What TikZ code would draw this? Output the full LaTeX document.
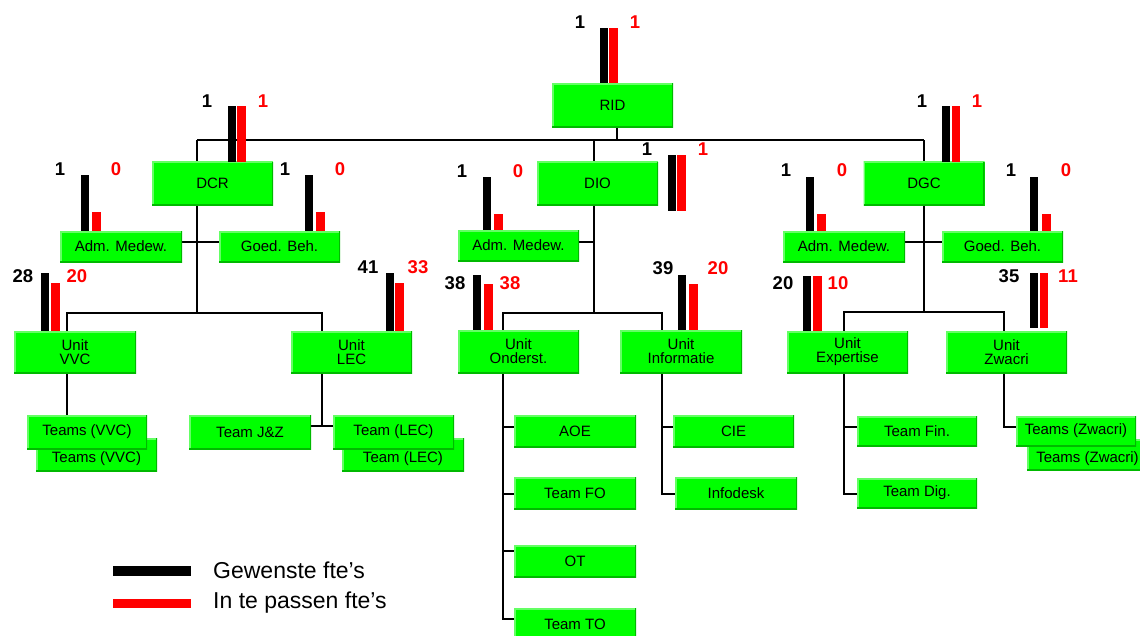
\documentclass[tikz,border=0pt]{standalone}
\usepackage{fontspec}
\setmainfont{Liberation Sans}
\usetikzlibrary{backgrounds}
\definecolor{gfill}{RGB}{0,255,0}
\definecolor{gdark}{RGB}{0,185,0}
\definecolor{glight}{RGB}{100,255,100}
\definecolor{fred}{RGB}{255,0,0}
\newcommand\ftebars[5]{%
  \fill[black] (#1,#3) rectangle (#1+8,#4);
  \fill[fred] (#2,#5) rectangle (#2+8.5,#4);}
\begin{document}
\begin{tikzpicture}[x=1pt,y=-1pt,
  bx/.style={fill=gfill, inner sep=0pt, minimum width=121pt, minimum height=32pt,
    font=\fontsize{15}{14}\selectfont, align=center, text=black,
    path picture={
      \draw[glight,line width=3pt] (path picture bounding box.south west) -- (path picture bounding box.north west) -- (path picture bounding box.north east);
      \draw[gdark,line width=3pt] (path picture bounding box.north east) -- (path picture bounding box.south east) -- (path picture bounding box.south west);}},
  topbox/.style={bx, minimum height=44pt},
  midbox/.style={bx, minimum height=31pt},
  unitbox/.style={bx, minimum height=42pt},
  teambox/.style={bx, minimum height=32pt},
  backbox/.style={teambox, text height=16pt, text depth=1pt},
  num/.style={font=\fontsize{18.5}{20}\selectfont\bfseries, inner sep=0pt, text=black},
  rnum/.style={num, text=fred},
  conn/.style={draw=black, line width=1.6pt},
  legend/.style={font=\fontsize{23}{25}\selectfont, anchor=west, inner sep=0pt}]
\useasboundingbox (0,0) rectangle (1140,635);

% ---- boxes ----
\node[topbox] (rid) at (612.5,105) {RID};
\node[topbox] (dcr) at (212.5,183.5) {DCR};
\node[topbox] (dio) at (597.5,183.5) {DIO};
\node[topbox] (dgc) at (924,183.5) {DGC};

\node[midbox, minimum width=122pt] (admA) at (121,246.5) {Adm. Medew.};
\node[midbox] (goedA) at (279.5,246.5) {Goed. Beh.};
\node[midbox] (admB) at (518.5,245.5) {Adm. Medew.};
\node[midbox, minimum width=122pt] (admC) at (844,246.5) {Adm. Medew.};
\node[midbox] (goedC) at (1002.5,246.5) {Goed. Beh.};

\node[unitbox, minimum width=122pt] (vvc) at (75,352) {Unit\\VVC};
\node[unitbox] (lec) at (351.5,352) {Unit\\LEC};
\node[unitbox, minimum height=43pt] (ond) at (518.5,351.5) {Unit\\Onderst.};
\node[unitbox, minimum width=122pt, minimum height=43pt] (inf) at (681,351.5) {Unit\\Informatie};
\node[unitbox] (exp) at (847.5,352) {Unit\\Expertise};
\node[unitbox] (zwa) at (1006.5,352) {Unit\\Zwacri};

\node[backbox, minimum height=33pt] (vvcB) at (96.5,454.5) {Teams (VVC)};
\node[teambox, minimum height=34pt, minimum width=120pt] (vvcA) at (87,432) {Teams (VVC)};
\node[teambox, minimum width=122pt, minimum height=34pt] (jz) at (250,432) {Team J\&Z};
\node[backbox, minimum width=122pt, minimum height=33pt] (lecB) at (403,454.5) {Team (LEC)};
\node[teambox, minimum height=34pt] (lecA) at (393.5,432) {Team (LEC)};

\node[teambox, minimum width=122pt] (aoe) at (575,431) {AOE};
\node[teambox, minimum width=122pt] (tfo) at (575,493) {Team FO};
\node[teambox, minimum width=122pt] (ot) at (575,561) {OT};
\node[teambox, minimum width=122pt] (tto) at (575,624) {Team TO};

\node[teambox] (cie) at (733.5,431) {CIE};
\node[teambox, minimum width=122pt] (ifd) at (736,493) {Infodesk};

\node[teambox, minimum width=120pt, minimum height=30pt] (tfin) at (917,431) {Team Fin.};
\node[teambox, minimum width=120pt, minimum height=30pt] (tdig) at (917,493) {Team Dig.};

\node[backbox, minimum height=31pt] (zwaB) at (1087.5,454.5) {Teams (Zwacri)};
\node[teambox, minimum width=120pt, minimum height=30pt] (zwaA) at (1076,431) {Teams (Zwacri)};

% ---- connectors (behind boxes) ----
\begin{pgfonlayer}{background}
\coordinate (jR) at (617,140);
\coordinate (jL) at (197,140);
\coordinate (jM) at (594,140);
\coordinate (jD) at (924,140);
\coordinate (uL) at (197,313);
\coordinate (uM) at (594,313);
\coordinate (uD) at (924,312);
\draw[conn] (rid.south -| jR) -- (jR);
\draw[conn] (jL) -- (jD);
\draw[conn] (jL) -- (uL);
\draw[conn] (jM) -- (uM);
\draw[conn] (jD) -- (uD);
\draw[conn] (admA.east |- 0,242) -- (goedA.west |- 0,242);
\draw[conn] (admB.east |- 0,242) -- (594,242);
\draw[conn] (admC.east |- 0,242) -- (goedC.west |- 0,242);
% unit levels
\draw[conn] (vvc.north -| 67,0) |- (uL) -| (lec.north -| 322,0);
\draw[conn] (ond.north -| 503,0) |- (uM) -| (inf.north -| 662,0);
\draw[conn] (exp.north -| 844,0) |- (uD) -| (zwa.north -| 1004,0);
% DCR teams
\draw[conn] (vvc.south -| 67,0) -- (vvcA.north -| 67,0);
\draw[conn] (lec.south -| 322,0) -- (322,426);
\draw[conn] (jz.east |- 0,426) -- (lecA.west |- 0,426);
% Onderst teams
\draw[conn] (ond.south -| 503,0) -- (503,619) -- (tto.west |- 0,619);
\draw[conn] (503,427) -- (aoe.west |- 0,427);
\draw[conn] (503,494) -- (tfo.west |- 0,494);
\draw[conn] (503,551) -- (ot.west |- 0,551);
% Informatie teams
\draw[conn] (inf.south -| 662,0) -- (662,494) -- (ifd.west |- 0,494);
\draw[conn] (662,427) -- (cie.west |- 0,427);
% Expertise teams
\draw[conn] (exp.south -| 844,0) -- (844,494) -- (tdig.west |- 0,494);
\draw[conn] (844,427) -- (tfin.west |- 0,427);
% Zwacri teams
\draw[conn] (zwa.south -| 1004,0) -- (1004,427) -- (zwaA.west |- 0,427);
\end{pgfonlayer}

% ---- bars: black x, red x, black top, bottom, red top ----
\ftebars{600}{609}{28}{83}{28}
\ftebars{228}{237}{106}{162}{106}
\ftebars{81}{92}{175}{231}{212}
\ftebars{305}{316}{175}{231}{212}
\ftebars{668}{677}{155}{211}{155}
\ftebars{483}{494}{177}{230}{214}
\ftebars{942}{951.5}{106}{162}{106}
\ftebars{806}{817}{177}{231}{214}
\ftebars{1030}{1042}{177}{231}{214}
\ftebars{41}{51}{273}{331}{283}
\ftebars{385.5}{395}{273}{331}{283}
\ftebars{473}{484}{275}{330}{284}
\ftebars{677.5}{689}{275}{330}{284}
\ftebars{803}{813}{276}{331}{276}
\ftebars{1030}{1039.5}{273}{328}{273}

% ---- numbers ----
\node[num] (nR1) at (580,22) {1};    \node[rnum] (nR2) at (635,22) {1};
\node[num] (nD1) at (207,101) {1};   \node[rnum] (nD2) at (263,101) {1};
\node[num] (nA1) at (60,169) {1};    \node[rnum] (nA2) at (116,169) {0};
\node[num] (nG1) at (285,169) {1};   \node[rnum] (nG2) at (340,169) {0};
\node[num] (nI1) at (647,149) {1};   \node[rnum] (nI2) at (703,149) {1};
\node[num] (nB1) at (462,171) {1};   \node[rnum] (nB2) at (518,171) {0};
\node[num] (nC1) at (922,101) {1};   \node[rnum] (nC2) at (977,101) {1};
\node[num] (nE1) at (786,170) {1};   \node[rnum] (nE2) at (842,170) {0};
\node[num] (nF1) at (1011,170) {1};  \node[rnum] (nF2) at (1066,170) {0};
\node[num] (nV1) at (23,276) {28};   \node[rnum] (nV2) at (77,276) {20};
\node[num] (nL1) at (368,267) {41};  \node[rnum] (nL2) at (418,267) {33};
\node[num] (nO1) at (455,283) {38};  \node[rnum] (nO2) at (510,283) {38};
\node[num] (nN1) at (663,268) {39};  \node[rnum] (nN2) at (718,268) {20};
\node[num] (nX1) at (783,283) {20};  \node[rnum] (nX2) at (838,283) {10};
\node[num] (nZ1) at (1009,276) {35}; \node[rnum] (nZ2) at (1068,276) {11};

% ---- legend ----
\fill[black] (113,566) rectangle (191,576);
\fill[fred] (113,599) rectangle (191,608);
\node[legend] (lg1) at (213,570) {Gewenste fte’s};
\node[legend] (lg2) at (213,603) {In te passen fte’s};
\end{tikzpicture}
\end{document}
